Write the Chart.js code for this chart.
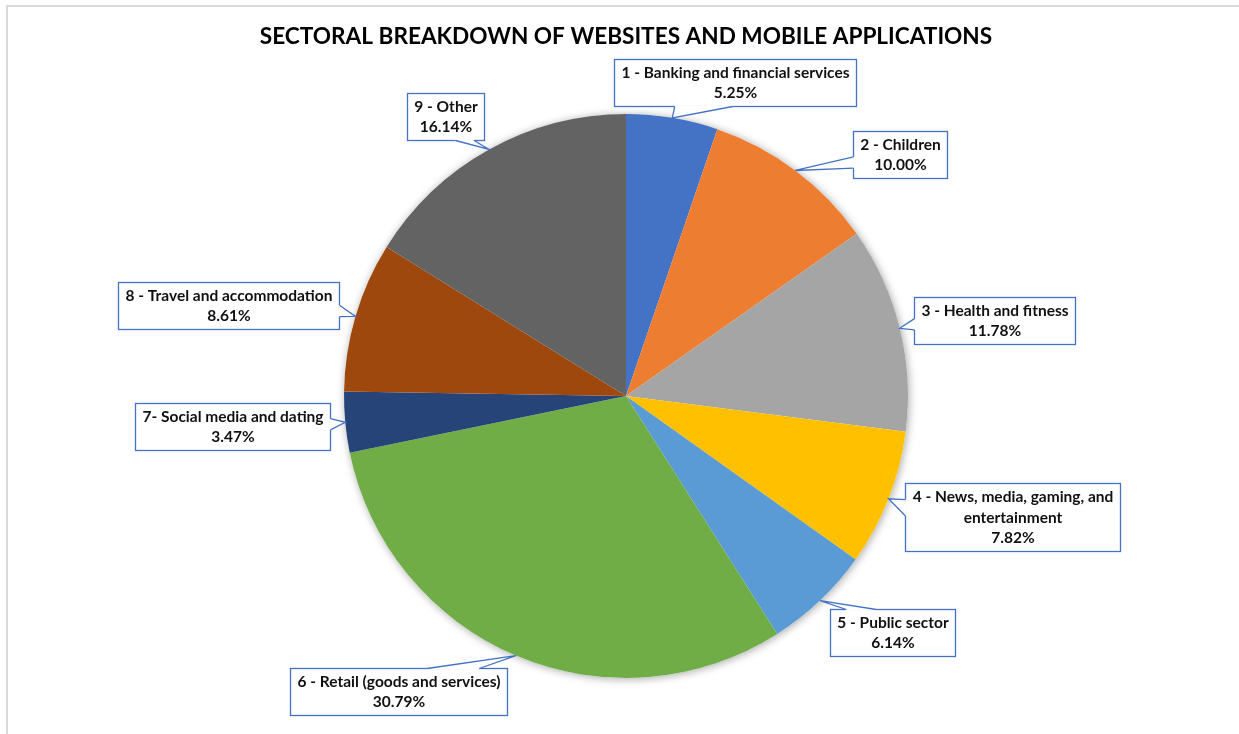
<!DOCTYPE html>
<html>
<head>
<meta charset="utf-8">
<script src="https://cdn.jsdelivr.net/npm/chart.js@4.4.0/dist/chart.umd.min.js"></script>
<style>
    html, body { margin: 0; padding: 0; background: #fff; }
</style>
</head>
<body>
<canvas id="grafica" width="1239" height="734"></canvas>
<script>
// Datos de la gráfica.
var titulo = 'SECTORAL BREAKDOWN OF WEBSITES AND MOBILE APPLICATIONS';
var sectores = ['1 - Banking and financial services', '2 - Children', '3 - Health and fitness',
    '4 - News, media, gaming, and entertainment', '5 - Public sector',
    '6 - Retail (goods and services)', '7- Social media and dating',
    '8 - Travel and accommodation', '9 - Other'];
var porcentajes = [5.25, 10.00, 11.78, 7.82, 6.14, 30.79, 3.47, 8.61, 16.14];
var colores = ['#4472C4', '#ED7D31', '#A5A5A5', '#FFC000', '#5B9BD5',
    '#70AD47', '#264478', '#9E480E', '#636363'];

// Desplazamiento de cada etiqueta respecto al punto del arco al que apunta.
var despEtiquetas = [[63, -35], [105, -16], [95, -8], [124, 18], [72, 32],
    [-117, 36], [-113, 4], [-127, -11], [-44, -33]];

var FUENTE = 'Lato, "Open Sans", sans-serif';

// Parte un texto en líneas que no pasen del ancho indicado.
function partirTexto(ctx, texto, anchoMax) {
    var palabras = texto.split(' ');
    var lineas = [];
    var actual = '';
    for (var i = 0; i < palabras.length; i++) {
        var prueba = actual ? actual + ' ' + palabras[i] : palabras[i];
        if (actual && ctx.measureText(prueba).width > anchoMax) {
            lineas.push(actual);
            actual = palabras[i];
        } else {
            actual = prueba;
        }
    }
    lineas.push(actual);
    return lineas;
}

// Marco, título y sombra del pastel.
var pluginFondo = {
    id: 'fondo',
    beforeDraw: function (chart) {
        var ctx = chart.ctx;
        ctx.save();
        ctx.fillStyle = '#fff';
        ctx.fillRect(0, 0, chart.width, chart.height);
        ctx.strokeStyle = '#d9d9d9';
        ctx.lineWidth = 2;
        ctx.strokeRect(7, 6, chart.width + 20, chart.height + 20);

        ctx.font = 'bold 100px ' + FUENTE;
        var escala = 732 / ctx.measureText(titulo).width;
        ctx.font = 'bold ' + (100 * escala).toFixed(1) + 'px ' + FUENTE;
        ctx.fillStyle = '#000';
        ctx.textAlign = 'center';
        ctx.textBaseline = 'middle';
        ctx.fillText(titulo, 626, 37);
        ctx.restore();
    },
    beforeDatasetsDraw: function (chart) {
        var arc = chart.getDatasetMeta(0).data[0];
        if (!arc) return;
        var ctx = chart.ctx;
        ctx.save();
        ctx.shadowColor = 'rgba(0, 0, 0, 0.35)';
        ctx.shadowBlur = 8;
        ctx.shadowOffsetX = 1;
        ctx.shadowOffsetY = 1;
        ctx.fillStyle = '#fff';
        ctx.beginPath();
        ctx.arc(arc.x, arc.y, arc.outerRadius, 0, Math.PI * 2);
        ctx.fill();
        ctx.restore();
    }
};

// Etiquetas tipo globo con flecha hacia cada rebanada.
var pluginEtiquetas = {
    id: 'etiquetas',
    afterDatasetsDraw: function (chart) {
        var ctx = chart.ctx;
        var meta = chart.getDatasetMeta(0);
        ctx.save();
        ctx.font = 'bold 15.5px ' + FUENTE;

        meta.data.forEach(function (arc, i) {
            var p = arc.getProps(['x', 'y', 'startAngle', 'endAngle', 'outerRadius'], true);
            var medio = (p.startAngle + p.endAngle) / 2;
            var ax = p.x + Math.cos(medio) * p.outerRadius;
            var ay = p.y + Math.sin(medio) * p.outerRadius;

            var lineas = partirTexto(ctx, sectores[i], 250);
            lineas.push(porcentajes[i].toFixed(2) + '%');
            var anchoTexto = 0;
            lineas.forEach(function (l) {
                anchoTexto = Math.max(anchoTexto, ctx.measureText(l).width);
            });
            var w = Math.round(anchoTexto + 14);
            var h = Math.round(lineas.length * 20.5 + 6);
            var cx = ax + despEtiquetas[i][0];
            var cy = ay + despEtiquetas[i][1];
            var l = Math.round(cx - w / 2) + 0.5;
            var t = Math.round(cy - h / 2) + 0.5;
            var r = l + w;
            var b = t + h;

            ctx.fillStyle = '#fff';
            ctx.fillRect(l, t, w, h);
            ctx.strokeStyle = '#4472C4';
            ctx.lineWidth = 1.3;
            ctx.strokeRect(l, t, w, h);

            // Base de la flecha sobre el lado más cercano al punto.
            var b1, b2, c, hw;
            if (ay < t || ay > b) {
                var ey = ay < t ? t : b;
                hw = w * 0.12;
                c = (Math.min(Math.max(ax, l), r) + cx) / 2;
                c = Math.min(Math.max(c, l + hw), r - hw);
                b1 = [c - hw, ey];
                b2 = [c + hw, ey];
            } else {
                var ex = ax < l ? l : r;
                hw = h * 0.12;
                c = (Math.min(Math.max(ay, t), b) + cy) / 2;
                c = Math.min(Math.max(c, t + hw), b - hw);
                b1 = [ex, c - hw];
                b2 = [ex, c + hw];
            }
            ctx.beginPath();
            ctx.moveTo(b1[0], b1[1]);
            ctx.lineTo(ax, ay);
            ctx.lineTo(b2[0], b2[1]);
            ctx.closePath();
            ctx.fill();
            ctx.strokeStyle = '#fff';
            ctx.lineWidth = 2.5;
            ctx.beginPath();
            ctx.moveTo(b1[0], b1[1]);
            ctx.lineTo(b2[0], b2[1]);
            ctx.stroke();
            ctx.strokeStyle = '#4472C4';
            ctx.lineWidth = 1.3;
            ctx.beginPath();
            ctx.moveTo(b1[0], b1[1]);
            ctx.lineTo(ax, ay);
            ctx.lineTo(b2[0], b2[1]);
            ctx.stroke();

            ctx.fillStyle = '#111';
            ctx.textAlign = 'center';
            ctx.textBaseline = 'middle';
            var y0 = (t + b) / 2 - (lineas.length - 1) * 20.5 / 2;
            lineas.forEach(function (linea, k) {
                ctx.fillText(linea, (l + r) / 2, y0 + k * 20.5);
            });
        });
        ctx.restore();
    }
};

var chart = new Chart(document.getElementById('grafica').getContext('2d'), {
    type: 'pie',
    data: {
        labels: sectores,
        datasets: [{
            data: porcentajes,
            backgroundColor: colores,
            borderWidth: 0,
            hoverOffset: 0
        }]
    },
    options: {
        responsive: false,
        animation: false,
        events: [],
        layout: { padding: { top: 114, bottom: 56, left: 13, right: 0 } },
        plugins: {
            legend: { display: false },
            title: { display: false },
            tooltip: { enabled: false }
        }
    },
    plugins: [pluginFondo, pluginEtiquetas]
});
</script>
</body>
</html>
